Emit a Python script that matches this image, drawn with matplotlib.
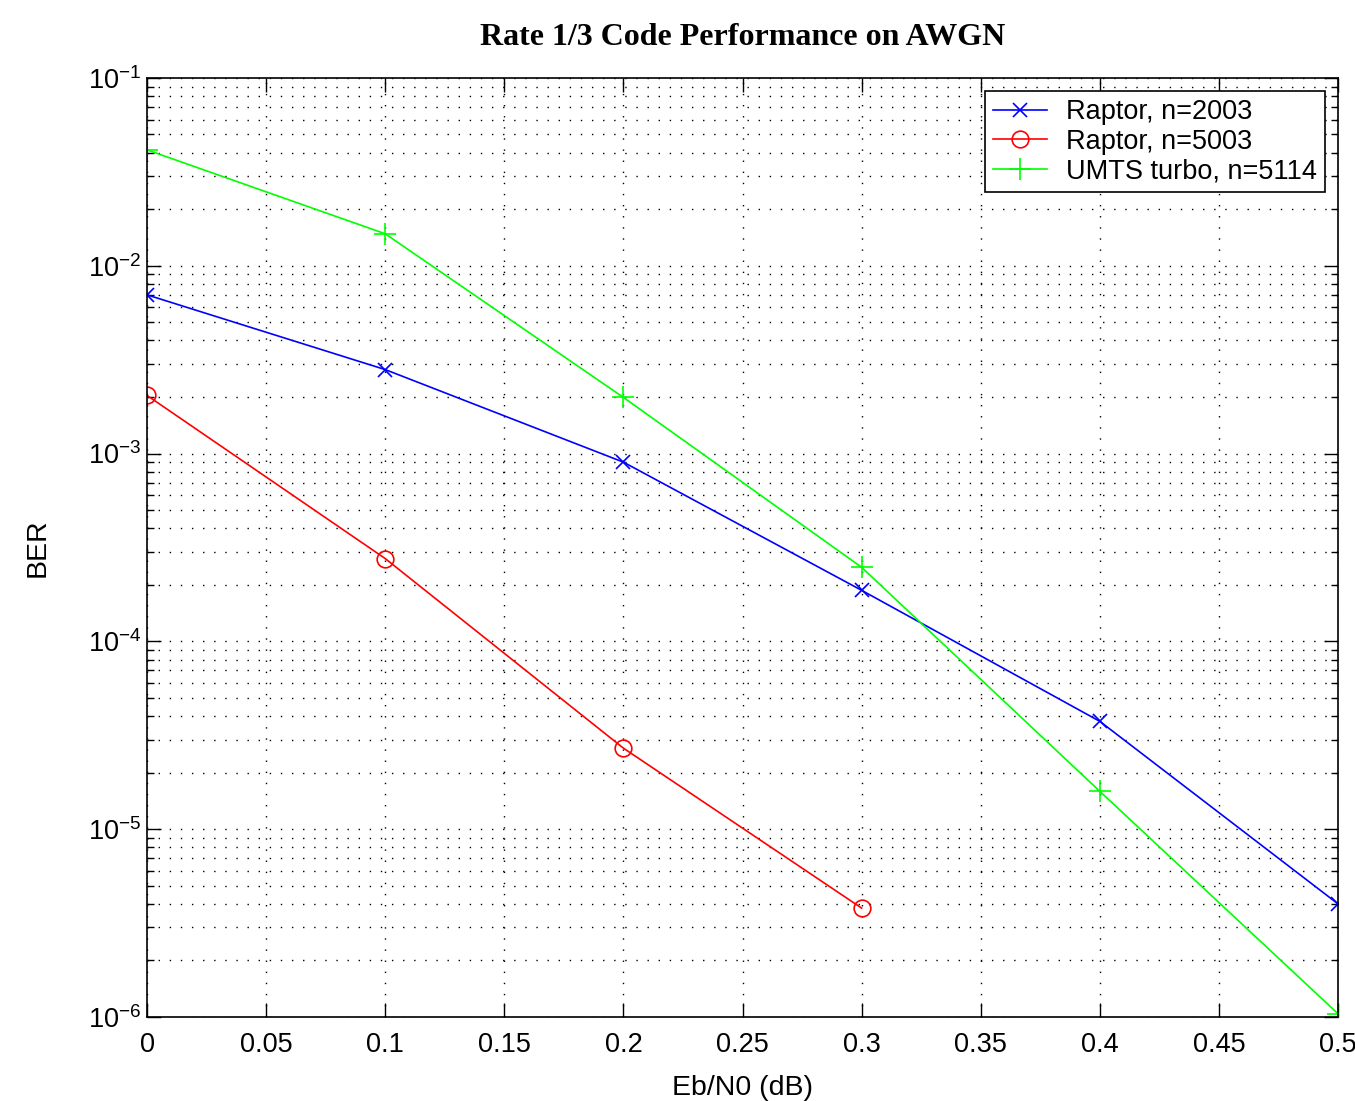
import numpy as np
import matplotlib
matplotlib.use('Agg')
import matplotlib.pyplot as plt
from matplotlib.ticker import LogLocator, NullFormatter

# Eb/N0 points (dB) and measured bit error rates
ebn0 = [0, 0.1, 0.2, 0.3, 0.4, 0.5]
ber_raptor_2003 = [7.0e-3, 2.8e-3, 9.0e-4, 1.87e-4, 3.75e-5, 4.0e-6]
ebn0_5003 = [0, 0.1, 0.2, 0.3]
ber_raptor_5003 = [2.04e-3, 2.76e-4, 2.7e-5, 3.8e-6]
ber_umts = [4.14e-2, 1.48e-2, 1.99e-3, 2.48e-4, 1.59e-5, 1.04e-6]

labels = ['Raptor, n=2003', 'Raptor, n=5003', 'UMTS turbo, n=5114']
xticks = [0, 0.05, 0.1, 0.15, 0.2, 0.25, 0.3, 0.35, 0.4, 0.45, 0.5]
xticklabels = ['0', '0.05', '0.1', '0.15', '0.2', '0.25', '0.3', '0.35', '0.4', '0.45', '0.5']

plt.rcParams['font.family'] = ['Liberation Sans', 'DejaVu Sans']
plt.rcParams['mathtext.fontset'] = 'custom'
plt.rcParams['mathtext.rm'] = 'Liberation Sans'

fig = plt.figure(figsize=(13.55, 11.01), dpi=100)
ax = fig.add_axes([0.1085, 0.0763, 0.879, 0.8529])

ax.semilogy(ebn0, ber_raptor_2003, color='#0000ff', marker='x', ms=10, mew=1.2, lw=1.2, label=labels[0])
ax.semilogy(ebn0_5003, ber_raptor_5003, color='#ff0000', marker='o', ms=12, mfc='none', mew=1.2, lw=1.2, label=labels[1])
ax.semilogy(ebn0, ber_umts, color='#00ff00', marker='+', ms=16, mew=1.2, lw=1.2, label=labels[2])

ax.set_xlim(0, 0.5)
ax.set_ylim(1e-6, 1e-1)
ax.set_xticks(xticks)
ax.set_xticklabels(xticklabels)
ax.yaxis.set_major_locator(LogLocator(base=10, numticks=10))
ax.yaxis.set_minor_locator(LogLocator(base=10, subs=np.arange(2, 10), numticks=100))
ax.yaxis.set_minor_formatter(NullFormatter())

ax.tick_params(which='both', direction='in', top=True, right=True, labelsize=19.5, width=1)
ax.tick_params(which='major', length=10)
ax.tick_params(axis='x', which='major', pad=11)
ax.tick_params(axis='y', which='major', pad=4)
ax.tick_params(which='minor', length=5)

dots = (0, (1, 7))
ax.grid(True, which='major', axis='both', color='black', linestyle=dots, linewidth=1)
ax.grid(True, which='minor', axis='y', color='black', linestyle=dots, linewidth=1)
for s in ax.spines.values():
    s.set_linewidth(1.2)

ax.set_xlabel('Eb/N0 (dB)', fontsize=20.5, labelpad=12)
ax.set_ylabel('BER', fontsize=20.5, labelpad=27)
ax.set_title('Rate 1/3 Code Performance on AWGN', fontsize=23, fontweight='bold',
             family='Liberation Serif', pad=24)

leg = ax.legend(loc='upper right', fontsize=19.5, frameon=True, fancybox=False,
                edgecolor='black', framealpha=1, borderaxespad=0.5,
                handlelength=2.0, handletextpad=0.7, labelspacing=0.14, borderpad=0.28)
leg.get_frame().set_linewidth(1.2)

fig.savefig('out.png', dpi=100)
